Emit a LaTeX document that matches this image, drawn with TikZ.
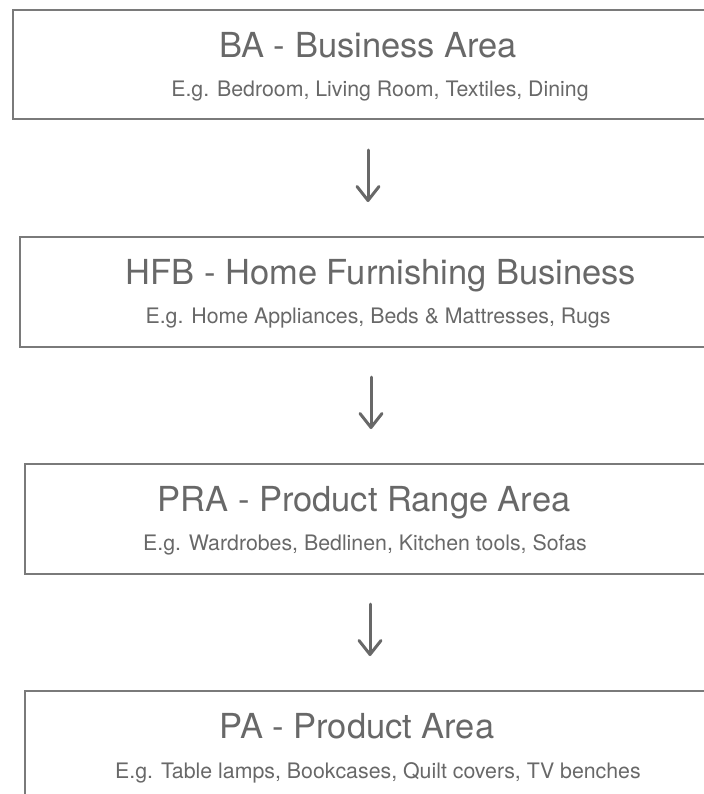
\documentclass[tikz,border=0pt]{standalone}
\usepackage{fontspec}
\setmainfont{TeX Gyre Heros}
\usetikzlibrary{arrows.meta}
\definecolor{inkgray}{HTML}{686868}
\definecolor{framegray}{HTML}{7A7A7A}
\begin{document}
\begin{tikzpicture}[x=1bp, y=-1bp,
  levelbox/.style={draw=framegray, line width=1.5bp, anchor=north west,
    minimum width=760bp, minimum height=#1, inner sep=0pt, outer sep=0pt},
  levelbox/.default=110bp,
  titletext/.style={text=inkgray, anchor=base, inner sep=0pt,
    font=\fontsize{34.6}{40}\selectfont},
  subtext/.style={text=inkgray, anchor=base, inner sep=0pt,
    font=\fontsize{21.4}{25}\selectfont},
  downarrow/.style={draw=inkgray, line width=3bp, line cap=round,
    -{Straight Barb[length=14bp, width=22bp, line cap=round, line join=round]}}]
  \useasboundingbox (0,0) rectangle (704,794);
  \clip (0,0) rectangle (704,794);

  % hierarchy levels
  \node[levelbox=109bp] (ba)  at (13,10)  {};
  \node[levelbox]       (hfb) at (20,237) {};
  \node[levelbox]       (pra) at (25,464) {};
  \node[levelbox=150bp] (pa)  at (25,691) {};

  % titles and examples
  \node[titletext] (baT)  at (368,57.5)  {BA - Business Area};
  \node[subtext]   (baS)  at (380,96.5)  {E.g. Bedroom, Living Room, Textiles, Dining};
  \node[titletext] (hfbT) at (381,284.5) {HFB - Home Furnishing Business};
  \node[subtext]   (hfbS) at (378,323.5) {E.g. Home Appliances, Beds \& Mattresses, Rugs};
  \node[titletext] (praT) at (364,511.5) {PRA - Product Range Area};
  \node[subtext]   (praS) at (365,550.5) {E.g. Wardrobes, Bedlinen, Kitchen tools, Sofas};
  \node[titletext] (paT)  at (357,738.5) {PA - Product Area};
  \node[subtext]   (paS)  at (378,778.5) {E.g. Table lamps, Bookcases, Quilt covers, TV benches};

  % arrows between levels
  \coordinate (a1s) at (368,150);
  \coordinate (a1e) at (368,202);
  \coordinate (a2s) at (371,377);
  \coordinate (a2e) at (371,429);
  \coordinate (a3s) at (370,604);
  \coordinate (a3e) at (370,656);
  \draw[downarrow] (a1s) -- (a1e);
  \draw[downarrow] (a2s) -- (a2e);
  \draw[downarrow] (a3s) -- (a3e);
\end{tikzpicture}
\end{document}
